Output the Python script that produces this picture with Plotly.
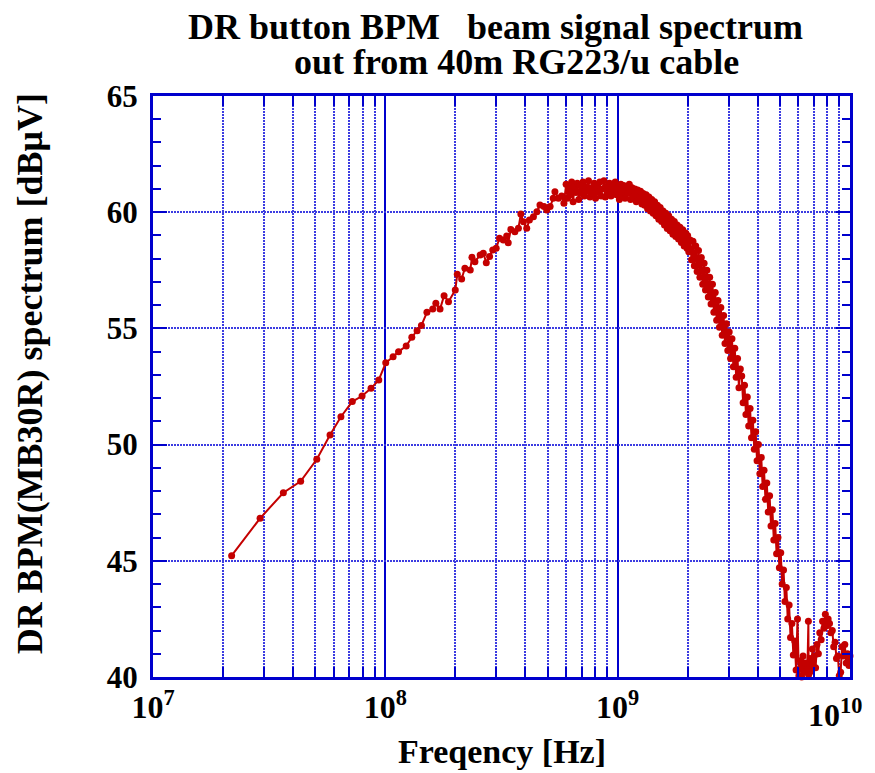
"""
DR button BPM beam signal spectrum (40m RG223/u cable), log-frequency plot.
"""

import numpy as np
import plotly.graph_objects as go


# measured spectrum: frequency in MHz, level in dBuV
freq_mhz = [
    # sparse low-frequency part
    21.8, 28.9, 36.4, 43.2, 50.7, 57.8, 64.4, 72.1, 79.4, 86.8,
    93.7, 100.4, 108, 114, 123, 130, 137, 143, 151, 160,
    165, 172, 179, 187, 200, 204, 213, 220, 232, 236,
    243, 256, 264, 272, 281, 290, 300, 310, 322, 333,
    338, 347, 361, 374, 383, 393, 406, 417, 434, 449,
    463, 482, 495, 512, 528, 537, 556, 574, 587,
    # dense part
    600, 608, 617, 625, 634, 643, 652, 661, 670, 680,
    689, 699, 709, 719, 729, 739, 749, 760, 770, 781,
    792, 803, 814, 826, 837, 849, 861, 873, 885, 898,
    910, 923, 936, 949, 962, 976, 989, 1003, 1017, 1032,
    1046, 1061, 1076, 1091, 1106, 1122, 1137, 1153, 1170, 1186,
    1203, 1219, 1237, 1254, 1272, 1289, 1308, 1326, 1345, 1363,
    1383, 1402, 1422, 1442, 1462, 1483, 1503, 1524, 1546, 1568,
    1590, 1612, 1635, 1658, 1681, 1705, 1729, 1753, 1778, 1803,
    1828, 1854, 1880, 1906, 1933, 1960, 1988, 2000, 2023, 2051,
    2080, 2109, 2138, 2168, 2198, 2228, 2259, 2291, 2323, 2355,
    2388, 2421, 2455, 2489, 2523, 2559, 2594, 2630, 2667, 2704,
    2742, 2780, 2818, 2858, 2897, 2938, 2979, 3020, 3062, 3105,
    3148, 3192, 3236, 3281, 3327, 3373, 3420, 3467, 3516, 3565,
    3614, 3664, 3715, 3767, 3819, 3873, 3926, 3981, 4036, 4093,
    4150, 4207, 4266, 4325, 4385, 4446, 4508, 4571, 4634, 4699,
    4764, 4831, 4898, 4966, 5035, 5105, 5176, 5248, 5321, 5395,
    5470, 5546, 5623, 5702, 5781, 5861, 5943, 6026,
    # noise floor and the bump near 8 GHz
    6110, 6195, 6281, 6368, 6457, 6546, 6620, 6637, 6729, 6823,
    6890, 6918, 7014, 7111, 7210, 7310, 7411, 7514, 7619, 7724,
    7832, 7940, 8051, 8162, 8276, 8391, 8507, 8625, 8745, 8866,
    8989, 9114, 9240, 9369, 9499, 9630, 9764, 9900, 10000,
]

level_dbuv = [
    45.22, 46.83, 47.93, 48.42, 49.37, 50.41, 51.20, 51.85, 52.09, 52.42,
    52.78, 53.52, 53.78, 54.00, 54.24, 54.62, 54.90, 55.13, 55.69, 55.83,
    56.08, 55.83, 56.41, 56.15, 56.65, 57.33, 57.13, 57.59, 57.51, 58.06,
    57.87, 58.16, 58.23, 57.83, 58.09, 58.37, 58.45, 58.88, 58.80, 58.98,
    58.69, 59.26, 59.16, 59.31, 59.92, 59.59, 59.31, 59.66, 59.80, 60.02,
    60.31, 60.24, 60.09, 60.24, 60.60, 60.88, 60.60, 60.70, 60.38,
    61.20, 60.60, 61.05, 60.75, 61.30, 60.45, 61.10, 60.85, 61.25, 60.55,
    61.15, 60.80, 61.30, 60.70, 61.10, 60.90, 61.35, 60.65, 61.05, 60.80,
    61.25, 60.60, 61.15, 60.85, 61.30, 60.70, 61.00, 61.35, 60.65, 61.10,
    60.80, 61.25, 60.70, 61.15, 60.90, 61.30, 60.75, 61.05, 60.55, 61.20,
    60.70, 61.15, 60.60, 61.10, 60.80, 61.20, 60.55, 61.05, 60.65, 61.00,
    60.45, 60.95, 60.50, 60.90, 60.35, 60.80, 60.30, 60.75, 60.15, 60.65,
    60.05, 60.55, 59.95, 60.45, 59.85, 60.30, 59.70, 60.20, 59.60, 60.05,
    59.45, 59.95, 59.30, 59.85, 59.20, 59.70, 59.05, 59.60, 58.95, 59.45,
    58.85, 59.35, 58.70, 59.25, 58.55, 59.10, 58.45, 59.00, 58.30, 58.80,
    57.95, 58.75, 57.70, 58.55, 57.45, 58.35, 57.20, 58.05, 56.90, 57.80,
    56.65, 57.50, 56.35, 57.20, 56.05, 56.90, 55.70, 56.55, 55.35, 56.20,
    55.05, 55.90, 54.70, 55.55, 54.35, 55.20, 54.05, 54.85, 53.70, 54.55,
    53.35, 54.15, 52.90, 53.70, 52.45, 53.25, 52.95, 51.80, 52.55, 51.30,
    52.05, 50.80, 51.55, 50.30, 51.05, 49.80, 50.55, 49.30, 50.00, 48.75,
    49.45, 48.20, 48.90, 47.65, 48.35, 47.10, 47.80, 46.50, 47.20, 45.90,
    46.60, 45.30, 46.00, 44.70, 45.35, 44.00, 44.60, 43.25, 43.85, 42.50,
    43.10, 41.70, 42.30, 40.95, 41.55, 40.30, 42.50, 40.05,
    40.70, 40.00, 40.90, 40.20, 40.60, 39.95, 42.40, 40.10, 40.80, 40.25,
    41.20, 40.50, 40.90, 40.40, 41.40, 41.00, 41.90, 41.60, 42.40, 42.10,
    42.70, 42.20, 42.50, 42.30, 41.90, 42.00, 41.30, 41.50, 40.80, 40.90,
    40.05, 40.20, 41.30, 40.90, 41.40, 40.60, 41.00, 40.50, 40.90,
]

# 1e10 is labelled separately so it is not clipped at the page edge
x_ticks = [1e7, 1e8, 1e9]
x_ticktext = ["10<sup>7</sup>", "10<sup>8</sup>", "10<sup>9</sup>"]
y_ticks = [40, 45, 50, 55, 60, 65]

FONT = "Liberation Serif"
RED = "#C40000"
BLUE = "rgb(0,0,205)"
GRID = "rgb(60,60,225)"

freq_hz = np.array(freq_mhz) * 1e6

fig = go.Figure()

fig.add_trace(go.Scatter(
    x=freq_hz,
    y=level_dbuv,
    mode="lines+markers",
    line=dict(color=RED, width=2),
    marker=dict(color=RED, size=7),
    cliponaxis=False,
    showlegend=False,
))

fig.update_xaxes(
    type="log",
    range=[7, 10],
    tickvals=x_ticks,
    ticktext=x_ticktext,
    ticks="inside",
    ticklen=12,
    tickwidth=2,
    tickcolor=BLUE,
    tickfont=dict(family=FONT, size=32, color="black", weight="bold"),
    showline=True,
    linecolor=BLUE,
    linewidth=3,
    mirror="allticks",
    showgrid=True,
    gridcolor=BLUE,
    gridwidth=2,
    minor=dict(
        dtick="D1",
        ticks="inside",
        ticklen=10,
        tickwidth=1.5,
        tickcolor=BLUE,
        showgrid=True,
        gridcolor=GRID,
        gridwidth=2,
        griddash="2px,1px",
    ),
    zeroline=False,
    automargin=False,
)

fig.update_yaxes(
    range=[40, 65],
    tickvals=y_ticks,
    ticks="inside",
    ticklen=14,
    tickwidth=2,
    tickcolor=BLUE,
    ticklabelstandoff=6,
    tickfont=dict(family=FONT, size=31, color="black", weight="bold"),
    showline=True,
    linecolor=BLUE,
    linewidth=3,
    mirror="allticks",
    showgrid=True,
    gridcolor=GRID,
    gridwidth=2,
    griddash="2px,1px",
    minor=dict(
        dtick=1,
        ticks="inside",
        ticklen=8,
        tickwidth=1.5,
        tickcolor=BLUE,
        showgrid=False,
    ),
    zeroline=False,
    automargin=False,
)

# last decade label, pulled in from the right edge
fig.add_annotation(
    text="10<sup>10</sup>",
    xref="paper", yref="paper", x=1.0, y=0.0, xshift=14, yshift=-14,
    showarrow=False, xanchor="right", yanchor="top",
    font=dict(family=FONT, size=32, color="black", weight="bold"),
)

title_font = dict(family=FONT, size=36, color="black", weight="bold")

# two-line title, each line centred on its own like the original
fig.add_annotation(
    text="DR button BPM   beam signal spectrum",
    xref="paper", yref="paper", x=0.492, y=1.118,
    showarrow=False, xanchor="center", yanchor="middle",
    font=title_font,
)
fig.add_annotation(
    text="out from 40m RG223/u cable",
    xref="paper", yref="paper", x=0.521, y=1.058,
    showarrow=False, xanchor="center", yanchor="middle",
    font=title_font,
)

# axis titles
fig.add_annotation(
    text="Freqency [Hz]",
    xref="paper", yref="paper", x=0.5, y=-0.128,
    showarrow=False, xanchor="center", yanchor="middle",
    font=dict(family=FONT, size=34, color="black", weight="bold"),
)
fig.add_annotation(
    text="DR BPM(MB30R) spectrum [dBμV]",
    xref="paper", yref="paper", x=-0.177, y=0.522,
    showarrow=False, xanchor="center", yanchor="middle", textangle=-90,
    font=dict(family=FONT, size=36, color="black", weight="bold"),
)

# the page adds an 8px body margin, so the figure is 8px smaller each way
fig.update_layout(
    width=867,
    height=765,
    margin=dict(l=145, r=25, t=88, b=96),
    plot_bgcolor="white",
    paper_bgcolor="white",
)

fig.write_html("out.html")
